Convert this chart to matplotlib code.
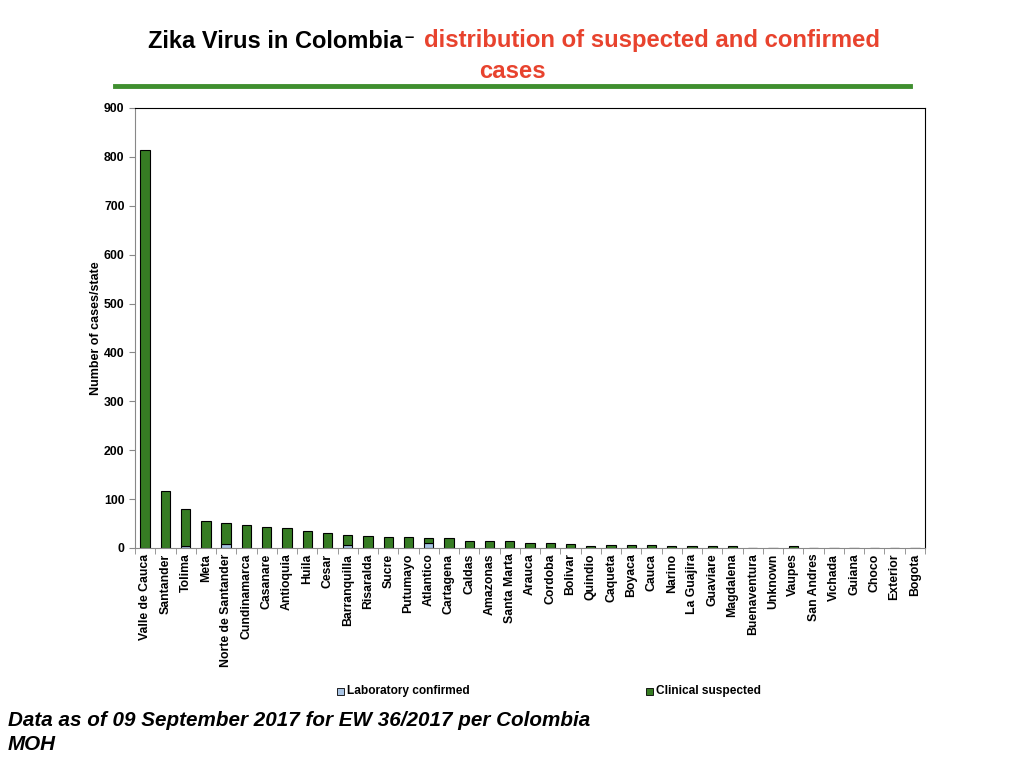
import matplotlib.pyplot as plt
import numpy as np

states = ["Valle de Cauca", "Santander", "Tolima", "Meta", "Norte de Santander",
          "Cundinamarca", "Casanare", "Antioquia", "Huila", "Cesar",
          "Barranquilla", "Risaralda", "Sucre", "Putumayo", "Atlantico",
          "Cartagena", "Caldas", "Amazonas", "Santa Marta", "Arauca",
          "Cordoba", "Bolivar", "Quindio", "Caqueta", "Boyaca",
          "Cauca", "Narino", "La Guajira", "Guaviare", "Magdalena",
          "Buenaventura", "Unknown", "Vaupes", "San Andres", "Vichada",
          "Guiana", "Choco", "Exterior", "Bogota"]
# values are totals; lab confirmed sits at the bottom
lab_confirmed = [0, 0, 4, 0, 8, 0, 0, 0, 0, 0,
                 7, 0, 0, 0, 10, 0, 0, 0, 0, 0,
                 0, 0, 0, 0, 0, 0, 0, 0, 0, 0,
                 0, 0, 0, 0, 0, 0, 0, 0, 0]
total = [815, 117, 79, 55, 51, 48, 42, 40, 34, 30,
         26, 24, 22, 22, 20, 20, 14, 14, 14, 10,
         10, 7.5, 4, 5.5, 5.5, 5.5, 3.5, 3.5, 3.5, 3.5,
         0, 0, 4, 0, 0, 0, 0, 1, 0]
clinical = [t - l for t, l in zip(total, lab_confirmed)]

green = "#367c23"
blue = "#a9c4e4"
FONT = "Liberation Sans"

fig = plt.figure(figsize=(10.24, 7.68), dpi=100)
ax = fig.add_axes([135 / 1024, 1 - 548 / 768, 790 / 1024, 440 / 768])

x = np.arange(len(states))
ax.bar(x, lab_confirmed, width=0.46, color=blue, edgecolor="black", linewidth=0.8)
ax.bar(x, clinical, width=0.46, bottom=lab_confirmed, color=green,
       edgecolor="black", linewidth=0.8)

ax.set_xlim(-0.5, len(states) - 0.5)
ax.set_ylim(0, 900)
ax.set_yticks(range(0, 901, 100))
ax.set_xticks(x)
ax.set_xticklabels(states, rotation=90, fontsize=8.8, fontweight="bold",
                   family=FONT)
ax.set_xticks(np.arange(-0.5, len(states), 1), minor=True)
ax.tick_params(axis="x", which="major", length=0, pad=4)
ax.tick_params(axis="x", which="minor", length=4, color="#888888")
ax.tick_params(axis="y", labelsize=8.8, length=4, color="#888888")
for lbl in ax.get_yticklabels():
    lbl.set_fontweight("bold")
    lbl.set_family(FONT)
ax.set_ylabel("Number of cases/state", fontsize=9, fontweight="bold",
              family=FONT, labelpad=1)
ax.spines["left"].set_color("#888888")
ax.spines["bottom"].set_color("#888888")
ax.spines["top"].set_color("black")
ax.spines["right"].set_color("black")

# legend
fig.patches.append(plt.Rectangle((337 / 1024, 1 - 695 / 768), 7 / 1024, 7 / 768,
                                 transform=fig.transFigure, facecolor=blue,
                                 edgecolor="black", linewidth=0.6))
fig.text(347 / 1024, 1 - 691 / 768, "Laboratory confirmed", fontsize=8.6,
         fontweight="bold", family=FONT, va="center")
fig.patches.append(plt.Rectangle((646 / 1024, 1 - 695 / 768), 7 / 1024, 7 / 768,
                                 transform=fig.transFigure, facecolor=green,
                                 edgecolor="black", linewidth=0.6))
fig.text(656 / 1024, 1 - 691 / 768, "Clinical suspected", fontsize=8.6,
         fontweight="bold", family=FONT, va="center")

# title
fig.text(402 / 1024, 1 - 41 / 768, "Zika Virus in Colombia", fontsize=17,
         fontweight="bold", ha="right", va="center", family=FONT,
         color="black")
fig.text(409 / 1024, 1 - 38 / 768, "\u2013", fontsize=12,
         fontweight="bold", ha="center", va="center", family=FONT,
         color="black")
fig.text(424 / 1024, 1 - 41 / 768, "distribution of suspected and confirmed",
         fontsize=17.2, fontweight="bold", ha="left", va="center",
         family=FONT, color="#e8432e")
fig.text(512 / 1024, 1 - 72 / 768, "cases", fontsize=17.2, fontweight="bold",
         ha="center", va="center", family=FONT, color="#e8432e")
fig.add_artist(plt.Line2D([115 / 1024, 910 / 1024], [1 - 86 / 768, 1 - 86 / 768],
                          color="#3f8f2f", linewidth=3.5))

fig.text(8 / 1024, 1 - 721 / 768, "Data as of 09 September 2017 for EW 36/2017 per Colombia",
         fontsize=14.9, fontweight="bold", style="italic", family=FONT,
         va="center")
fig.text(8 / 1024, 1 - 745 / 768, "MOH", fontsize=14.9, fontweight="bold",
         style="italic", family=FONT, va="center")

fig.savefig("out.png", dpi=100)
